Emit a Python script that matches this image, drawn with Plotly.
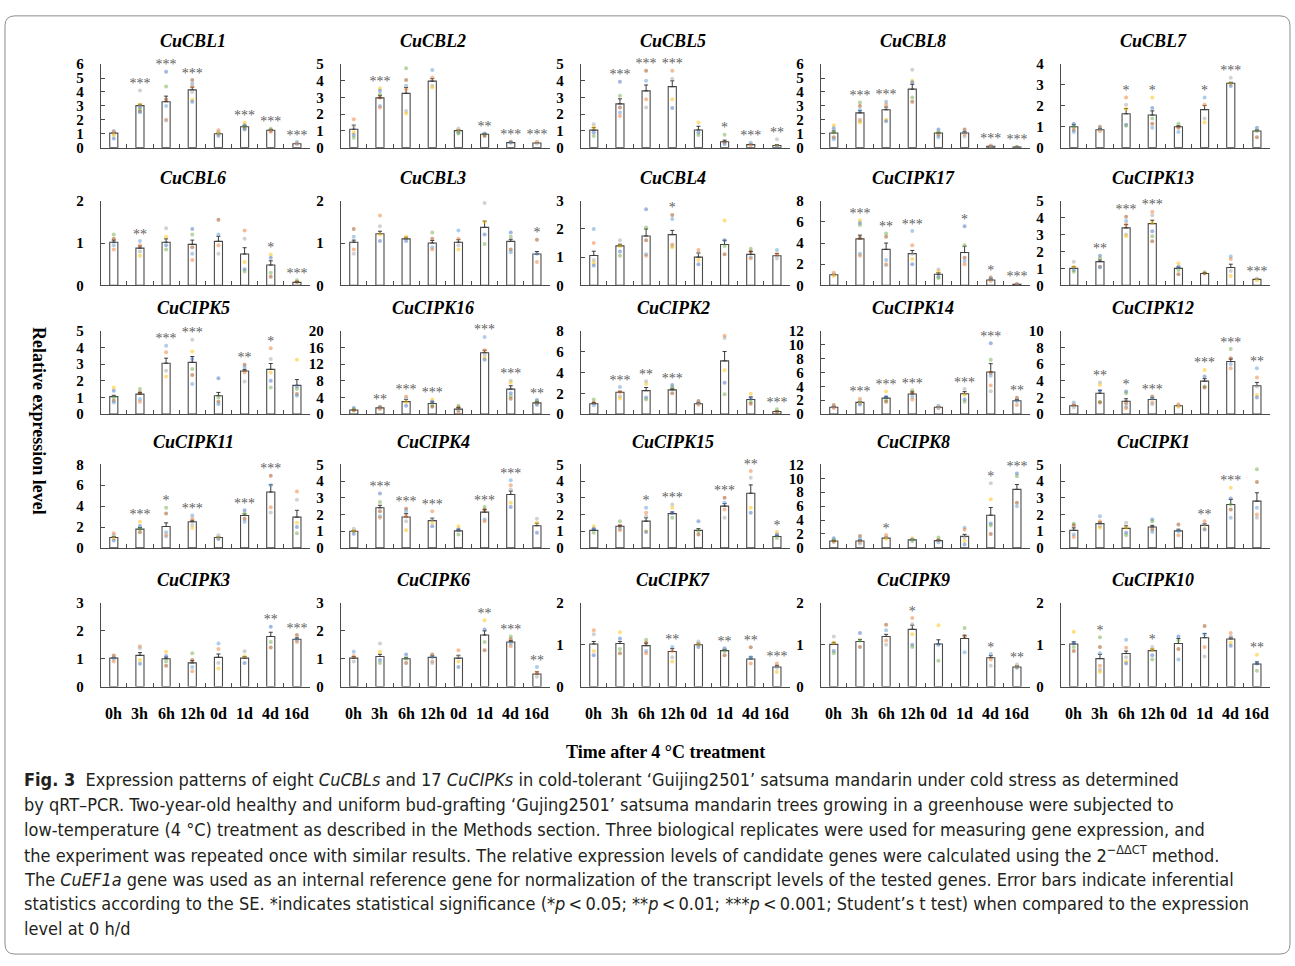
import plotly.graph_objects as go

W, H = 1295, 966
categories = ["0h", "3h", "6h", "12h", "0d", "1d", "4d", "16d"]

# ---------------- data ----------------
CuCBL1_mean = [1.04, 3.02, 3.3, 4.15, 1.0, 1.5, 1.25, 0.28]
CuCBL1_se = [0.05, 0.1, 0.4, 0.2, 0.05, 0.1, 0.05, 0.03]
CuCBL1_sig = ["", "***", "***", "***", "", "***", "***", "***"]
CuCBL1_pts = [[1.2, 1.15, 1.0, 0.9, 0.65], [4.1, 3.1, 2.9, 2.75, 2.6, 2.55], [5.45, 4.4, 3.45, 3.0, 2.0, 1.95],
              [4.85, 4.6, 4.4, 4.0, 3.45, 3.3], [1.25, 1.1, 1.0, 0.85], [1.8, 1.6, 1.5, 1.35, 1.3],
              [1.35, 1.25, 1.2, 1.15], [0.4, 0.3, 0.25]]
CuCBL1_ticks = [0, 1, 2, 3, 4, 5, 6]

CuCBL2_mean = [1.1, 2.98, 3.25, 3.98, 1.02, 0.8, 0.3, 0.28]
CuCBL2_se = [0.25, 0.15, 0.35, 0.15, 0.05, 0.05, 0.03, 0.03]
CuCBL2_sig = ["", "***", "***", "***", "", "**", "***", "***"]
CuCBL2_pts = [[1.7, 1.3, 0.9, 0.75, 0.6], [3.55, 3.4, 3.2, 3.0, 2.5, 2.4], [4.75, 4.05, 3.7, 3.5, 2.2, 2.05],
              [4.65, 4.2, 3.7, 3.6], [1.15, 1.0, 0.9, 0.85], [0.85, 0.75, 0.7], [0.35, 0.3], [0.35, 0.25]]
CuCBL2_ticks = [0, 1, 2, 3, 4, 5]

CuCBL5_mean = [1.05, 2.62, 3.4, 3.65, 1.06, 0.35, 0.18, 0.13]
CuCBL5_se = [0.15, 0.3, 0.35, 0.35, 0.22, 0.1, 0.03, 0.05]
CuCBL5_sig = ["", "***", "***", "***", "", "*", "***", "**"]
CuCBL5_pts = [[1.4, 1.2, 0.9, 0.7], [3.94, 3.1, 2.4, 2.1, 1.9], [4.6, 4.0, 2.9, 2.4], [4.6, 4.13, 2.9, 2.37],
              [1.5, 0.9, 0.75], [0.77, 0.3, 0.2], [0.3, 0.15], [0.5, 0.1, 0.05]]
CuCBL5_ticks = [0, 1, 2, 3, 4, 5]

CuCBL8_mean = [1.05, 2.5, 2.72, 4.2, 1.05, 1.05, 0.1, 0.05]
CuCBL8_se = [0.15, 0.15, 0.2, 0.35, 0.05, 0.1, 0.02, 0.01]
CuCBL8_sig = ["", "***", "***", "***", "", "", "***", "***"]
CuCBL8_pts = [[1.6, 1.4, 1.1, 0.75, 0.6], [3.25, 3.0, 2.7, 2.0, 1.9, 1.8], [3.3, 3.1, 2.9, 2.0, 1.9],
              [5.6, 4.8, 4.7, 3.6, 3.3], [1.3, 1.1, 0.9, 0.75], [1.3, 1.1, 0.95, 0.8], [0.15, 0.1], [0.06, 0.04]]
CuCBL8_ticks = [0, 1, 2, 3, 4, 5, 6]

CuCBL7_mean = [1.0, 0.86, 1.62, 1.56, 1.0, 1.82, 3.08, 0.8]
CuCBL7_se = [0.1, 0.05, 0.25, 0.2, 0.05, 0.2, 0.05, 0.05]
CuCBL7_sig = ["", "", "*", "*", "", "*", "***", ""]
CuCBL7_pts = [[1.15, 1.0, 0.85, 0.75], [1.0, 0.9, 0.8], [2.4, 2.05, 1.85, 1.1, 1.05], [2.4, 1.9, 1.4, 1.15, 0.95],
              [1.15, 0.95, 0.75], [2.4, 2.05, 1.4, 1.2], [3.35, 3.05, 2.95], [0.95, 0.8, 0.5]]
CuCBL7_ticks = [0, 1, 2, 3, 4]

CuCBL6_mean = [1.02, 0.88, 1.02, 0.97, 1.04, 0.74, 0.48, 0.07]
CuCBL6_se = [0.05, 0.05, 0.08, 0.1, 0.12, 0.15, 0.1, 0.02]
CuCBL6_sig = ["", "**", "", "", "", "", "*", "***"]
CuCBL6_pts = [[1.2, 1.1, 0.95, 0.85], [1.05, 0.95, 0.8, 0.7], [1.35, 1.15, 0.95, 0.85], [1.33, 1.2, 0.9, 0.75, 0.6],
              [1.55, 1.2, 0.95, 0.75], [1.3, 1.1, 0.55, 0.38, 0.33], [0.73, 0.65, 0.3, 0.2], [0.12, 0.08]]
CuCBL6_ticks = [0, 1, 2]

CuCBL3_mean = [1.02, 1.22, 1.1, 1.0, 1.02, 1.37, 1.04, 0.74]
CuCBL3_se = [0.05, 0.06, 0.04, 0.06, 0.06, 0.15, 0.05, 0.06]
CuCBL3_sig = ["", "", "", "", "", "", "", "*"]
CuCBL3_pts = [[1.33, 1.15, 0.85, 0.75], [1.65, 1.4, 1.2, 1.05], [1.15, 1.05], [1.25, 1.1, 0.9, 0.85],
              [1.3, 1.1, 0.95, 0.85], [1.95, 1.5, 1.2, 0.98], [1.25, 1.15, 0.85, 0.78], [1.08, 0.75, 0.55]]
CuCBL3_ticks = [0, 1, 2]

CuCBL4_mean = [1.06, 1.4, 1.75, 1.8, 1.0, 1.45, 1.1, 1.05]
CuCBL4_se = [0.15, 0.06, 0.25, 0.15, 0.15, 0.15, 0.1, 0.08]
CuCBL4_sig = ["", "", "", "*", "", "", "", ""]
CuCBL4_pts = [[2.0, 1.5, 0.9, 0.8, 0.7], [1.6, 1.4, 1.2, 1.05], [2.7, 2.05, 1.6, 1.1, 1.05], [2.5, 2.35, 1.45, 1.4, 1.35],
              [1.25, 1.15, 0.9, 0.75], [2.3, 1.6, 1.4, 1.1], [1.3, 1.2, 1.0, 0.95], [1.25, 1.1, 0.95]]
CuCBL4_ticks = [0, 1, 2, 3]

CuCIPK17_mean = [1.0, 4.4, 3.4, 3.0, 1.05, 3.1, 0.5, 0.1]
CuCIPK17_se = [0.05, 0.35, 0.6, 0.3, 0.15, 0.6, 0.1, 0.02]
CuCIPK17_sig = ["", "***", "**", "***", "", "*", "*", "***"]
CuCIPK17_pts = [[1.2, 1.0, 0.9], [6.15, 5.9, 5.7, 4.5, 3.0, 2.8], [4.9, 4.6, 2.4, 2.0, 1.9], [5.15, 3.8, 3.0, 2.5, 2.0],
                [1.5, 1.3, 0.8, 0.7], [5.6, 3.8, 2.6, 2.3, 2.0], [0.75, 0.6, 0.4], [0.15, 0.1]]
CuCIPK17_ticks = [0, 2, 4, 6, 8]

CuCIPK13_mean = [1.0, 1.4, 3.4, 3.65, 1.0, 0.7, 1.05, 0.35]
CuCIPK13_se = [0.1, 0.1, 0.2, 0.2, 0.08, 0.04, 0.2, 0.03]
CuCIPK13_sig = ["", "**", "***", "***", "", "", "", "***"]
CuCIPK13_pts = [[1.4, 1.1, 0.9, 0.8], [1.75, 1.6, 1.1, 1.05], [4.05, 3.8, 3.6, 3.0, 2.9], [4.35, 4.15, 3.7, 3.2, 2.9, 2.6],
                [1.3, 1.1, 0.9, 0.65], [0.78, 0.7], [1.7, 1.55, 0.85, 0.55], [0.4, 0.3]]
CuCIPK13_ticks = [0, 1, 2, 3, 4, 5]

CuCIPK5_mean = [1.05, 1.2, 3.05, 3.1, 1.1, 2.58, 2.68, 1.72]
CuCIPK5_se = [0.08, 0.1, 0.3, 0.35, 0.2, 0.1, 0.35, 0.35]
CuCIPK5_sig = ["", "", "***", "***", "", "**", "*", ""]
CuCIPK5_pts = [[1.6, 1.4, 1.0, 0.8, 0.7], [1.5, 1.3, 0.9, 0.75], [4.1, 3.7, 2.6, 2.25], [4.45, 3.75, 3.3, 2.7, 2.35, 1.8],
               [2.15, 1.0, 0.75, 0.6], [2.95, 2.8, 2.5, 1.95], [3.95, 3.3, 2.5, 2.0, 1.6], [3.25, 1.65, 1.5, 1.2, 1.1]]
CuCIPK5_ticks = [0, 1, 2, 3, 4, 5]

CuCIPK16_mean = [1.0, 1.5, 3.0, 2.55, 1.2, 14.7, 6.0, 2.7]
CuCIPK16_se = [0.1, 0.15, 0.5, 0.4, 0.4, 0.6, 0.8, 0.3]
CuCIPK16_sig = ["", "**", "***", "***", "", "***", "***", "**"]
CuCIPK16_pts = [[1.5, 1.2, 0.9], [1.8, 1.5, 1.2], [4.2, 3.8, 2.9, 2.0], [3.5, 3.0, 2.1, 1.8], [2.0, 1.6, 0.9, 0.5],
                [18.5, 15.3, 14.2, 13.5, 13.0], [8.0, 7.5, 5.0, 4.3, 3.7], [3.4, 3.1, 2.5, 2.2]]
CuCIPK16_ticks = [0, 4, 8, 12, 16, 20]

CuCIPK2_mean = [1.0, 2.1, 2.25, 2.33, 1.0, 5.1, 1.4, 0.25]
CuCIPK2_se = [0.1, 0.1, 0.3, 0.15, 0.1, 0.9, 0.25, 0.05]
CuCIPK2_sig = ["", "***", "**", "***", "", "**", "", "***"]
CuCIPK2_pts = [[1.4, 1.1, 0.85], [2.6, 2.1, 1.7, 1.5], [3.15, 2.9, 1.6, 1.4], [2.8, 2.6, 2.0], [1.25, 1.05, 0.9],
               [7.5, 7.3, 4.2, 3.0, 1.9], [1.95, 1.5, 1.2, 1.0], [0.47, 0.2]]
CuCIPK2_ticks = [0, 2, 4, 6, 8]

CuCIPK14_mean = [1.0, 1.7, 2.3, 2.9, 1.0, 2.93, 6.05, 1.92]
CuCIPK14_se = [0.1, 0.12, 0.2, 0.3, 0.05, 0.3, 1.2, 0.2]
CuCIPK14_sig = ["", "***", "***", "***", "", "***", "***", "**"]
CuCIPK14_pts = [[1.3, 1.0, 0.9], [2.2, 1.9, 1.6, 1.4], [3.25, 2.5, 2.0, 1.8], [3.45, 3.1, 2.5, 2.1], [1.2, 0.95, 0.8],
                [3.6, 2.8, 2.1, 1.8], [10.2, 7.8, 5.9, 5.5, 4.1, 3.3], [2.35, 1.9, 1.3]]
CuCIPK14_ticks = [0, 2, 4, 6, 8, 10, 12]

CuCIPK12_mean = [1.0, 2.5, 1.55, 1.75, 1.0, 3.95, 6.3, 3.4]
CuCIPK12_se = [0.1, 0.35, 0.3, 0.2, 0.05, 0.3, 0.3, 0.4]
CuCIPK12_sig = ["", "**", "*", "***", "", "***", "***", "**"]
CuCIPK12_pts = [[1.4, 1.1, 0.8], [3.8, 3.5, 2.8, 1.5, 1.4], [2.7, 2.5, 1.3, 0.9, 0.7], [2.1, 1.9, 1.4, 1.2],
                [1.2, 1.0, 0.9], [5.3, 4.5, 3.3, 3.2], [7.8, 6.7, 6.0, 5.5], [5.5, 4.4, 3.3, 2.3, 2.0]]
CuCIPK12_ticks = [0, 2, 4, 6, 8, 10]

CuCIPK11_mean = [1.0, 1.8, 2.05, 2.5, 1.0, 3.1, 5.35, 2.95]
CuCIPK11_se = [0.1, 0.15, 0.35, 0.15, 0.05, 0.15, 0.7, 0.65]
CuCIPK11_sig = ["", "***", "*", "***", "", "***", "***", ""]
CuCIPK11_pts = [[1.4, 1.2, 0.9, 0.7], [2.5, 2.1, 1.8, 1.5], [3.85, 3.3, 1.5, 1.2, 1.1], [3.1, 2.8, 2.2, 1.9],
                [1.2, 0.95, 0.85], [3.6, 3.3, 2.8, 2.5], [6.9, 6.0, 3.9, 3.4], [5.4, 4.6, 2.4, 2.0, 1.4]]
CuCIPK11_ticks = [0, 2, 4, 6, 8]

CuCIPK4_mean = [1.0, 2.4, 1.85, 1.63, 1.02, 2.14, 3.2, 1.33]
CuCIPK4_se = [0.05, 0.15, 0.2, 0.15, 0.1, 0.15, 0.2, 0.15]
CuCIPK4_sig = ["", "***", "***", "***", "", "***", "***", ""]
CuCIPK4_pts = [[1.15, 1.0, 0.85], [3.25, 2.75, 2.2, 1.9, 1.8], [2.35, 2.2, 1.9, 1.6, 1.05], [2.2, 1.7, 1.5, 1.3],
               [1.3, 1.1, 0.8], [2.45, 2.3, 1.7, 1.6], [4.05, 3.75, 3.5, 2.7, 2.45], [1.75, 1.5, 0.9]]
CuCIPK4_ticks = [0, 1, 2, 3, 4, 5]

CuCIPK15_mean = [1.05, 1.3, 1.6, 2.05, 1.05, 2.5, 3.27, 0.68]
CuCIPK15_se = [0.08, 0.06, 0.2, 0.1, 0.1, 0.15, 0.5, 0.08]
CuCIPK15_sig = ["", "", "*", "***", "", "***", "**", "*"]
CuCIPK15_pts = [[1.3, 1.15, 0.9], [1.6, 1.3, 1.15, 1.05], [2.4, 2.1, 1.9, 1.0, 0.95], [2.6, 2.4, 2.1, 1.8],
                [1.6, 1.0, 0.8], [3.0, 2.7, 2.3, 1.8], [4.6, 4.2, 2.4, 2.1], [0.95, 0.8, 0.6]]
CuCIPK15_ticks = [0, 1, 2, 3, 4, 5]

CuCIPK8_mean = [1.0, 1.0, 1.4, 1.15, 1.05, 1.65, 4.7, 8.4]
CuCIPK8_se = [0.1, 0.15, 0.15, 0.1, 0.1, 0.3, 1.1, 0.7]
CuCIPK8_sig = ["", "", "*", "", "", "", "*", "***"]
CuCIPK8_pts = [[1.4, 1.1, 0.9], [1.7, 1.3, 0.8, 0.6], [1.85, 1.5, 1.3], [1.4, 1.2, 1.0], [1.5, 1.1, 0.8],
               [2.9, 2.6, 1.5, 1.0, 0.5], [9.3, 7.0, 3.5, 3.2, 2.0], [10.7, 10.3, 6.5, 6.0]]
CuCIPK8_ticks = [0, 2, 4, 6, 8, 10, 12]

CuCIPK1_mean = [1.05, 1.45, 1.17, 1.25, 1.02, 1.35, 2.6, 2.8]
CuCIPK1_se = [0.15, 0.1, 0.15, 0.1, 0.1, 0.1, 0.3, 0.5]
CuCIPK1_sig = ["", "", "", "", "", "**", "***", "*"]
CuCIPK1_pts = [[1.45, 1.35, 0.8, 0.65], [1.9, 1.6, 1.3, 1.2], [1.5, 1.2, 0.9, 0.75], [1.7, 1.6, 1.1, 0.95],
               [1.4, 1.0, 0.75], [1.6, 1.4, 1.15, 1.1], [3.6, 2.95, 2.6, 2.3, 1.8], [4.7, 3.95, 2.4, 2.0, 1.8]]
CuCIPK1_ticks = [0, 1, 2, 3, 4, 5]

CuCIPK3_mean = [1.02, 1.12, 1.0, 0.85, 1.05, 1.02, 1.8, 1.7]
CuCIPK3_se = [0.03, 0.1, 0.06, 0.08, 0.12, 0.06, 0.15, 0.05]
CuCIPK3_sig = ["", "", "", "", "", "", "**", "***"]
CuCIPK3_pts = [[1.12, 1.0, 0.9], [1.45, 1.38, 0.95, 0.82], [1.25, 1.1, 0.9, 0.75], [1.2, 0.95, 0.7, 0.55],
               [1.55, 1.35, 0.85, 0.65], [1.27, 1.1, 0.85], [2.15, 1.6, 1.4], [1.85, 1.65, 1.6]]
CuCIPK3_ticks = [0, 1, 2, 3]

CuCIPK6_mean = [1.02, 1.08, 1.0, 1.05, 1.02, 1.85, 1.6, 0.45]
CuCIPK6_se = [0.06, 0.08, 0.05, 0.05, 0.1, 0.15, 0.05, 0.08]
CuCIPK6_sig = ["", "", "", "", "", "**", "***", "**"]
CuCIPK6_pts = [[1.25, 1.1, 0.9], [1.55, 1.25, 0.95, 0.85], [1.15, 1.0, 0.85], [1.15, 1.05, 0.9, 0.85],
               [1.3, 1.1, 0.9, 0.7], [2.38, 2.05, 1.6, 1.3], [1.8, 1.7, 1.55, 1.45], [0.7, 0.5, 0.35]]
CuCIPK6_ticks = [0, 1, 2, 3]

CuCIPK7_mean = [1.02, 1.03, 0.98, 0.84, 1.0, 0.86, 0.66, 0.47]
CuCIPK7_se = [0.06, 0.05, 0.06, 0.07, 0.04, 0.03, 0.05, 0.04]
CuCIPK7_sig = ["", "", "", "**", "", "**", "**", "***"]
CuCIPK7_pts = [[1.35, 1.25, 0.85, 0.75], [1.3, 1.15, 0.9, 0.8], [1.12, 1.05, 0.85, 0.8], [0.95, 0.85, 0.7, 0.6],
               [1.08, 1.0, 0.95], [0.92, 0.85, 0.75], [0.94, 0.7, 0.55], [0.55, 0.45, 0.35]]
CuCIPK7_ticks = [0, 1, 2]

CuCIPK9_mean = [1.01, 1.08, 1.2, 1.37, 1.02, 1.15, 0.69, 0.47]
CuCIPK9_se = [0.05, 0.05, 0.05, 0.1, 0.1, 0.08, 0.05, 0.03]
CuCIPK9_sig = ["", "", "", "*", "", "", "*", "**"]
CuCIPK9_pts = [[1.2, 1.05, 0.85, 0.8], [1.28, 1.1, 0.95], [1.48, 1.35, 1.1, 1.0], [1.64, 1.5, 1.25, 1.0, 0.95],
               [1.47, 1.0, 0.62], [1.4, 1.2, 0.82], [0.78, 0.65, 0.5], [0.53, 0.47, 0.45]]
CuCIPK9_ticks = [0, 1, 2]

CuCIPK10_mean = [1.02, 0.67, 0.79, 0.86, 1.03, 1.17, 1.14, 0.54]
CuCIPK10_se = [0.05, 0.1, 0.06, 0.04, 0.12, 0.1, 0.04, 0.05]
CuCIPK10_sig = ["", "*", "", "*", "", "", "", "**"]
CuCIPK10_pts = [[1.31, 1.05, 0.95, 0.85], [1.18, 0.95, 0.8, 0.5, 0.4, 0.35], [1.12, 0.93, 0.7, 0.6, 0.55],
                [0.95, 0.88, 0.75, 0.65], [1.2, 1.1, 0.9, 0.65], [1.45, 1.25, 0.95, 0.72], [1.28, 1.2, 1.05, 0.98],
                [0.76, 0.55, 0.38]]
CuCIPK10_ticks = [0, 1, 2]

gene_names = ["CuCBL1", "CuCBL2", "CuCBL5", "CuCBL8", "CuCBL7",
              "CuCBL6", "CuCBL3", "CuCBL4", "CuCIPK17", "CuCIPK13",
              "CuCIPK5", "CuCIPK16", "CuCIPK2", "CuCIPK14", "CuCIPK12",
              "CuCIPK11", "CuCIPK4", "CuCIPK15", "CuCIPK8", "CuCIPK1",
              "CuCIPK3", "CuCIPK6", "CuCIPK7", "CuCIPK9", "CuCIPK10"]

x_title = "Time after 4 \u00b0C treatment"
y_title = "Relative expression level"
caption_lines = [
    "<b>Fig. 3</b>  Expression patterns of eight <i>CuCBLs</i> and 17 <i>CuCIPKs</i> in cold-tolerant \u2018Guijing2501\u2019 satsuma mandarin under cold stress as determined",
    "by qRT\u2013PCR. Two-year-old healthy and uniform bud-grafting \u2018Gujing2501\u2019 satsuma mandarin trees growing in a greenhouse were subjected to",
    "low-temperature (4 \u00b0C) treatment as described in the Methods section. Three biological replicates were used for measuring gene expression, and",
    "the experiment was repeated once with similar results. The relative expression levels of candidate genes were calculated using the 2<sup>\u2212\u0394\u0394CT</sup> method.",
    "The <i>CuEF1a</i> gene was used as an internal reference gene for normalization of the transcript levels of the tested genes. Error bars indicate inferential",
    "statistics according to the SE. *indicates statistical significance (*<i>p</i>\u2009<\u20090.05; **<i>p</i>\u2009<\u20090.01; ***<i>p</i>\u2009<\u20090.001; Student\u2019s t test) when compared to the expression",
    "level at 0 h/d",
]

# ---------------- layout geometry (pixels) ----------------
COL_X = [100.7, 340.7, 580.7, 820.7, 1060.7]
PLOT_W = 209.3
ROW_TOP = [57, 196, 328, 464, 605]
ROW_BOT = [142, 282, 413, 549, 690]
DOT_COLORS = ["#5B9BD5", "#ED7D31", "#A5A5A5", "#FFC000", "#4472C4", "#70AD47", "#9E480E"]
SERIF = "Liberation Serif, Times New Roman, serif"
EDGE = "#4a4a4a"


def px_x(p):
    return p / W


def px_y(p):
    return 1 - p / H


fig = go.Figure()
layout = {}
annotations = []
g = globals()

for idx, name in enumerate(gene_names):
    mean = g[name + "_mean"]
    se = g[name + "_se"]
    sig = g[name + "_sig"]
    pts = g[name + "_pts"]
    ticks = g[name + "_ticks"]
    r, c = divmod(idx, 5)
    n = idx + 1
    sfx = "" if n == 1 else str(n)
    xa, ya = "x" + sfx, "y" + sfx
    x0 = COL_X[c]
    top, bot = ROW_TOP[r], ROW_BOT[r]
    ymax = ticks[-1]
    xs = list(range(len(categories)))

    fig.add_trace(go.Bar(
        x=xs, y=mean, width=0.31, xaxis=xa, yaxis=ya,
        marker=dict(color="white", line=dict(color=EDGE, width=1.1)),
        error_y=dict(type="data", symmetric=False, array=se, arrayminus=[0] * len(se),
                     color="#3a3a3a", thickness=1, width=2),
        showlegend=False, hoverinfo="skip", cliponaxis=False))

    dx, dy, dc = [], [], []
    for i, vals in enumerate(pts):
        for j, v in enumerate(vals):
            dx.append(i)
            dy.append(v)
            dc.append(DOT_COLORS[(j + 2 * i + idx) % len(DOT_COLORS)])
    fig.add_trace(go.Scatter(
        x=dx, y=dy, mode="markers", xaxis=xa, yaxis=ya,
        marker=dict(size=4, color=dc, opacity=0.5),
        showlegend=False, hoverinfo="skip", cliponaxis=False))

    ppu = (bot - top) / ymax
    sx = [i for i in xs if sig[i]]
    sy = [max(max(pts[i]), mean[i] + se[i]) + 6.0 / ppu for i in sx]
    fig.add_trace(go.Scatter(
        x=sx, y=sy, mode="text", text=[sig[i] for i in sx], xaxis=xa, yaxis=ya,
        textfont=dict(family=SERIF, size=14, color="#5f5f5f"),
        textposition="middle center",
        showlegend=False, hoverinfo="skip", cliponaxis=False))

    layout["xaxis" + sfx] = dict(
        domain=[px_x(x0), px_x(x0 + PLOT_W)], anchor=ya, range=[-0.5, 7.5],
        showline=True, linecolor=EDGE, linewidth=1, showgrid=False, zeroline=False,
        tickmode="array", tickvals=[k + 0.5 for k in range(7)] + [7.499],
        ticks="inside", ticklen=4, tickcolor=EDGE, tickwidth=1, showticklabels=False,
        fixedrange=True)
    layout["yaxis" + sfx] = dict(
        domain=[px_y(bot), px_y(top)], anchor=xa, range=[0, ymax * 1.0005],
        showline=True, linecolor=EDGE, linewidth=1, showgrid=False, zeroline=False,
        tickmode="array", tickvals=ticks, ticktext=[str(t) for t in ticks],
        ticks="inside", ticklen=4, tickcolor=EDGE, tickwidth=1,
        tickfont=dict(family=SERIF, size=15, color="black", weight="bold"),
        ticklabelstandoff=13, fixedrange=True)

    annotations.append(dict(
        text="<b><i>%s</i></b>" % name, x=px_x(x0 + PLOT_W / 2 - 12), y=px_y(top - 23),
        xref="paper", yref="paper", xanchor="center", yanchor="middle", showarrow=False,
        font=dict(family=SERIF, size=18, color="black")))

    if r == 4:
        for i, cat in enumerate(categories):
            annotations.append(dict(
                text="<b>%s</b>" % cat, x=i, xref=xa, y=px_y(bot + 27), yref="paper",
                xanchor="center", yanchor="middle", showarrow=False,
                font=dict(family=SERIF, size=16, color="black")))

annotations.append(dict(
    text="<b>%s</b>" % x_title, x=px_x(665), y=px_y(757), xref="paper", yref="paper",
    xanchor="center", yanchor="middle", showarrow=False,
    font=dict(family=SERIF, size=18, color="black")))
annotations.append(dict(
    text="<b>%s</b>" % y_title, x=px_x(39), y=px_y(420), xref="paper", yref="paper",
    xanchor="center", yanchor="middle", showarrow=False, textangle=90,
    font=dict(family=SERIF, size=18, color="black")))

for k, line in enumerate(caption_lines):
    annotations.append(dict(
        text=line, x=px_x(22), y=px_y(785 + 25.2 * k), xref="paper", yref="paper",
        xanchor="left", yanchor="middle", showarrow=False, align="left",
        font=dict(family="DejaVu Sans Condensed, Liberation Sans Narrow, Arial Narrow, sans-serif",
                  size=18, color="#231f20")))

# rounded frame
fx0, fx1, fy0, fy1, rad = 5, 1290, 8, 962, 10


def P(x, y):
    return "%.5f,%.5f" % (px_x(x), px_y(y))


path = ("M " + P(fx0 + rad, fy0) + " L " + P(fx1 - rad, fy0) + " Q " + P(fx1, fy0) + " " + P(fx1, fy0 + rad) +
        " L " + P(fx1, fy1 - rad) + " Q " + P(fx1, fy1) + " " + P(fx1 - rad, fy1) +
        " L " + P(fx0 + rad, fy1) + " Q " + P(fx0, fy1) + " " + P(fx0, fy1 - rad) +
        " L " + P(fx0, fy0 + rad) + " Q " + P(fx0, fy0) + " " + P(fx0 + rad, fy0) + " Z")

fig.update_layout(
    width=W, height=H, margin=dict(l=0, r=0, t=0, b=0),
    paper_bgcolor="white", plot_bgcolor="white",
    annotations=annotations,
    shapes=[dict(type="path", path=path, xref="paper", yref="paper",
                 line=dict(color="#8c8c8c", width=1))],
    bargap=0.6, **layout)

fig.write_html("out.html")
